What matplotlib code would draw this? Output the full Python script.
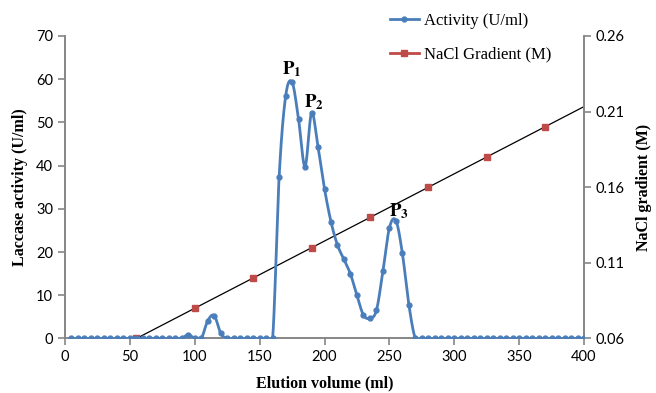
import numpy as np
import matplotlib.pyplot as plt
from matplotlib.lines import Line2D

# elution volume (ml) and laccase activity (U/ml)
volume = list(range(5, 405, 5))
activity = [0] * 18 + [0.9, 0, 0, 4.1, 5.3, 1.2, 0, 0, 0, 0, 0, 0, 0, 0,
                       37.3, 56.0, 59.3, 50.7, 39.8, 52.2, 44.3, 34.6, 27.0, 21.6,
                       18.3, 14.9, 10.0, 5.4, 4.7, 6.5, 15.6, 25.6, 27.3, 19.7, 7.8]
activity = activity + [0] * (len(volume) - len(activity))

nacl_x = [55, 100, 145, 190, 235, 280, 325, 370]
nacl_y = [0.06, 0.08, 0.10, 0.12, 0.14, 0.16, 0.18, 0.20]

peak_labels = ['1', '2', '3']
peak_pos = [(175, 60), (192, 52.5), (257, 27.3)]

BLUE = '#4a7ebb'
RED = '#be4b48'
GRAY = '#868686'


def smooth(x, y, n=20):
    # excel-like smoothed line (catmull-rom bezier)
    x = np.asarray(x, float)
    y = np.asarray(y, float)
    px = np.concatenate([[x[0]], x, [x[-1]]])
    py = np.concatenate([[y[0]], y, [y[-1]]])
    t = np.linspace(0, 1, n)[:, None]
    xs, ys = [], []
    for i in range(1, len(px) - 2):
        p0 = np.array([px[i], py[i]])
        p3 = np.array([px[i + 1], py[i + 1]])
        c1 = p0 + (np.array([px[i + 1], py[i + 1]]) - np.array([px[i - 1], py[i - 1]])) / 6
        c2 = p3 - (np.array([px[i + 2], py[i + 2]]) - p0) / 6
        b = ((1 - t) ** 3) * p0 + 3 * ((1 - t) ** 2) * t * c1 + 3 * (1 - t) * t ** 2 * c2 + t ** 3 * p3
        xs.append(b[:, 0])
        ys.append(b[:, 1])
    return np.concatenate(xs), np.concatenate(ys)


plt.rcParams['mathtext.fontset'] = 'stix'
tick_font = 'Lato'
serif = 'Liberation Serif'

fig = plt.figure(figsize=(6.56, 3.93), dpi=100)
ax = fig.add_axes([0.0991, 0.1387, 0.7912, 0.7697])
ax2 = ax.twinx()

sx, sy = smooth(volume, activity)
ax.plot(sx, sy, color=BLUE, lw=2, zorder=3)
ax.plot(volume, activity, ls='none', marker='o', ms=3.5, color=BLUE, zorder=4)

ax2.plot(nacl_x, nacl_y, ls='none', marker='s', ms=4, color=RED, zorder=3)
k, b0 = np.polyfit(nacl_x, nacl_y, 1)
tx = np.array([nacl_x[0], 400])
ax2.plot(tx, k * tx + b0, color='black', lw=0.9, zorder=2)

ax.set_xlim(0, 400)
ax.set_ylim(0, 70)
ax2.set_ylim(0.06, 0.26)
ax.set_xticks(range(0, 401, 50))
ax.set_yticks(range(0, 71, 10))
ax2.set_yticks([0.06, 0.11, 0.16, 0.21, 0.26])

for a in (ax, ax2):
    a.spines['top'].set_visible(False)
    for s in ('left', 'right', 'bottom'):
        a.spines[s].set_color(GRAY)
        a.spines[s].set_linewidth(1.2)
    a.tick_params(direction='out', color=GRAY, width=1.2, length=5, labelsize=10.5)
    for lab in a.get_xticklabels() + a.get_yticklabels():
        lab.set_fontfamily(tick_font)
ax.set_zorder(ax2.get_zorder() + 1)
ax.patch.set_visible(False)

ax.set_xlabel('Elution volume (ml)', fontfamily=serif, fontweight='bold', fontsize=11.5, labelpad=8)
ax.set_ylabel('Laccase activity (U/ml)', fontfamily=serif, fontweight='bold', fontsize=11.5, labelpad=6)
ax2.set_ylabel('NaCl gradient (M)', fontfamily=serif, fontweight='bold', fontsize=11.5, labelpad=8)

for lab, (px_, py_) in zip(peak_labels, peak_pos):
    ax.text(px_, py_, r'$\mathbf{P_' + lab + '}$', fontsize=13.5, ha='center', va='bottom')

handles = [Line2D([], [], color=BLUE, lw=2, marker='o', ms=3.5),
           Line2D([], [], color=RED, lw=2, marker='s', ms=4)]
fig.legend(handles, ['Activity (U/ml)', 'NaCl Gradient (M)'], loc='upper left',
           bbox_to_anchor=(0.572, 1.005), frameon=False, handlelength=1.7,
           handletextpad=0.3, labelspacing=1.05, prop={'family': serif, 'size': 12})

fig.savefig('out.png', dpi=100)
